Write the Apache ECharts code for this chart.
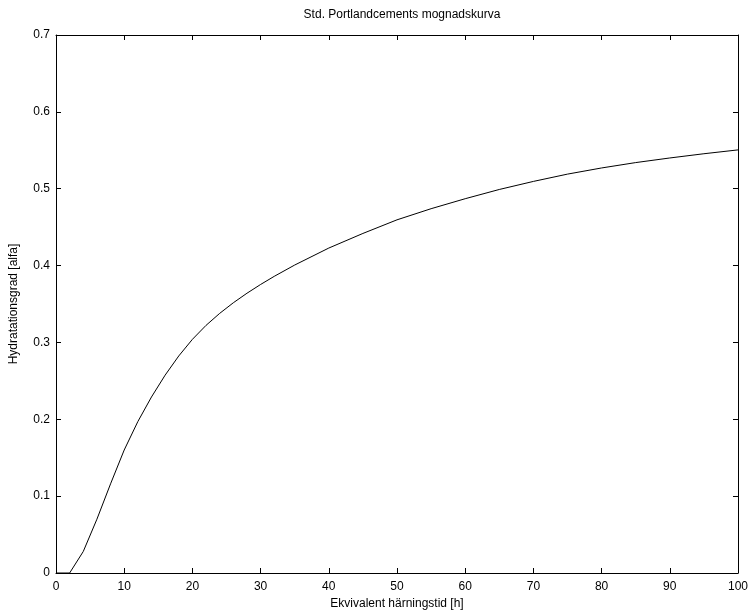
<!DOCTYPE html>
<html>
<head>
<meta charset="utf-8">
<script src="https://cdn.jsdelivr.net/npm/echarts@6/dist/echarts.min.js"></script>
<style>html,body{margin:0;padding:0;background:#fff;}#c{width:751px;height:615px;}</style>
</head>
<body>
<div id="c"></div>
<script>
var hours = [0,2,4,6,8,10,12,14,16,18,20,22,24,26,28,30,32,35,40,45,50,55,60,65,70,75,80,85,90,95,100];
var alpha = [0,0,0.028,0.070,0.116,0.160,0.197,0.229,0.2574,0.2824,0.3040,0.3222,0.3378,0.3516,0.3640,0.3754,0.3860,0.4007,0.4228,0.4418,0.4595,0.4740,0.4870,0.4990,0.5095,0.5190,0.5270,0.5340,0.5400,0.5455,0.5505];
var titleText = 'Std. Portlandcements mognadskurva';
var xName = 'Ekvivalent härningstid [h]';
var yName = 'Hydratationsgrad [alfa]';

var font = 'Liberation Sans, Arial, Helvetica, sans-serif';
var chart = echarts.init(document.getElementById('c'), null, {renderer: 'canvas'});
var pts = hours.map(function (h, i) { return [h, alpha[i]]; });
var axBase = {
  axisLine: {show: true, onZero: false, lineStyle: {color: '#000', width: 1}},
  axisTick: {show: true, inside: true, length: 5, lineStyle: {color: '#000'}},
  splitLine: {show: false}
};
chart.setOption({
  backgroundColor: '#fff',
  animation: false,
  title: {text: titleText, left: 397, textAlign: 'center', top: 4,
    textStyle: {fontFamily: font, fontSize: 12, fontWeight: 'normal', color: '#000'}},
  grid: {left: 56, right: 12, top: 35, bottom: 41, containLabel: false},
  xAxis: [
    Object.assign({}, axBase, {type: 'value', min: 0, max: 100, interval: 10, position: 'bottom',
      name: xName, nameLocation: 'middle', nameGap: 25,
      nameTextStyle: {fontFamily: font, fontSize: 12, color: '#000'},
      axisLabel: {fontFamily: font, fontSize: 12, color: '#000', margin: 8}}),
    Object.assign({}, axBase, {type: 'value', min: 0, max: 100, interval: 10, position: 'top',
      axisLabel: {show: false}})
  ],
  yAxis: [
    Object.assign({}, axBase, {type: 'value', min: 0, max: 0.7, interval: 0.1, position: 'left',
      name: yName, nameLocation: 'middle', nameGap: 36,
      nameTextStyle: {fontFamily: font, fontSize: 12, color: '#000'},
      axisLabel: {fontFamily: font, fontSize: 12, color: '#000', margin: 6,
        formatter: function (v) { return v === 0 ? '0' : v.toFixed(1); }}}),
    Object.assign({}, axBase, {type: 'value', min: 0, max: 0.7, interval: 0.1, position: 'right',
      axisLabel: {show: false}})
  ],
  series: [{
    type: 'line', data: pts, smooth: false, showSymbol: false, symbol: 'none',
    xAxisIndex: 0, yAxisIndex: 0,
    lineStyle: {color: '#000', width: 1}
  }]
});
</script>
</body>
</html>
